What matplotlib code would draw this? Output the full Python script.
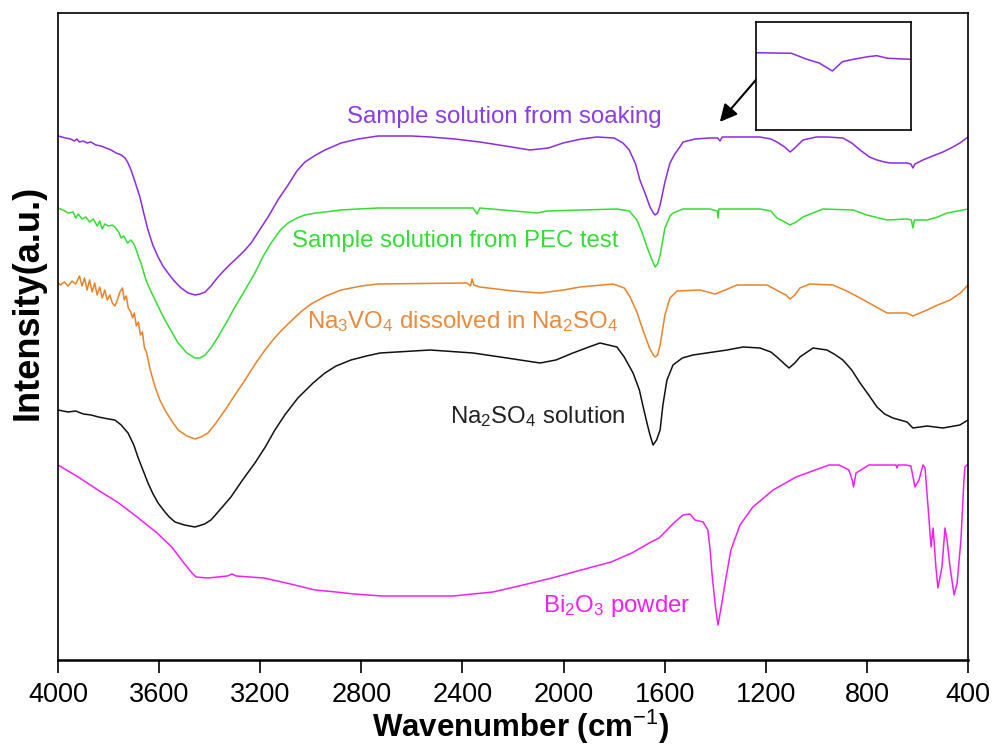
import numpy as np
import matplotlib
matplotlib.use("Agg")
import matplotlib.pyplot as plt

plt.rcParams['font.family'] = ['Liberation Sans', 'DejaVu Sans']
plt.rcParams['mathtext.fontset'] = 'custom'
plt.rcParams['mathtext.rm'] = 'Liberation Sans'
plt.rcParams['mathtext.it'] = 'Liberation Sans:italic'
plt.rcParams['mathtext.bf'] = 'Liberation Sans:bold'

# ---- FTIR spectra (wavenumber in cm^-1, intensity in a.u. with vertical offsets) ----
soak_wn = [4000, 3970, 3950, 3935, 3925, 3915, 3900, 3885, 3870, 3850, 3830, 3810, 3790,
           3770, 3750, 3735, 3725, 3711, 3695, 3676, 3660, 3644, 3625, 3604, 3585, 3565,
           3540, 3513, 3485, 3458, 3438, 3418, 3395, 3367, 3330, 3288, 3260, 3236, 3200,
           3169, 3130, 3090, 3055, 3023, 2980, 2944, 2880, 2813, 2734, 2600, 2528, 2430,
           2331, 2230, 2133, 2060, 2002, 1930, 1868, 1800, 1765, 1740, 1715, 1698, 1675,
           1658, 1645, 1638, 1628, 1618, 1599, 1579, 1560, 1540, 1527, 1480, 1421, 1390,
           1381, 1372, 1300, 1223, 1180, 1156, 1125, 1104, 1085, 1053, 1000, 958, 895, 860,
           827, 790, 760, 730, 709, 641, 626, 618, 610, 578, 540, 499, 460, 432, 400]
soak_int = [524, 522, 521, 519, 521, 518, 519, 517, 518, 515, 514, 512, 510,
            507, 505, 502, 498, 490, 478, 463, 446, 430, 415, 403, 394, 387,
            379, 372, 367, 365, 366, 368, 374, 383, 393, 403, 410, 417, 431,
            443, 460, 475, 489, 498, 505, 510, 517, 521, 524, 524, 523, 521,
            518, 514, 510, 512, 517, 521, 523, 522, 517, 510, 496, 480, 465,
            453, 447, 445, 447, 455, 478, 497, 506, 513, 518, 521, 522, 522,
            519, 523, 523, 523, 521, 518, 513, 508, 512, 520, 523, 523, 522, 517,
            510, 503, 500, 498, 497, 497, 496, 492, 496, 500, 504, 508, 513, 517, 523]

pec_wn = [4000, 3980, 3960, 3940, 3930, 3920, 3905, 3890, 3875, 3860, 3845, 3835, 3825,
          3815, 3800, 3785, 3775, 3760, 3750, 3740, 3725, 3712, 3700, 3690, 3680, 3672,
          3652, 3635, 3616, 3597, 3577, 3550, 3525, 3490, 3458, 3438, 3418, 3395, 3367,
          3335, 3300, 3260, 3221, 3190, 3157, 3120, 3090, 3055, 3023, 2980, 2944, 2880,
          2813, 2734, 2358, 2342, 2331, 2105, 2066, 1789, 1740, 1710, 1690, 1670, 1650,
          1638, 1628, 1618, 1599, 1579, 1567, 1527, 1421, 1392, 1389, 1385, 1223, 1180,
          1156, 1125, 1104, 1080, 1053, 974, 855, 800, 720, 641, 624, 618, 612, 562, 520,
          483, 440, 400]
pec_int = [452, 450, 447, 448, 442, 446, 441, 443, 438, 441, 434, 439, 431,
           436, 434, 435, 433, 428, 422, 424, 417, 420, 416, 410, 402, 397,
           380, 370, 360, 350, 340, 328, 317, 307, 302, 302, 305, 312, 323,
           337, 353, 370, 387, 403, 417, 430, 437, 442, 445, 447, 448, 450,
           451, 452, 452, 446, 452, 447, 449, 451, 449, 440, 428, 413, 400,
           393, 396, 405, 432, 444, 447, 451, 451, 449, 442, 451, 451, 449,
           442, 438, 435, 438, 443, 451, 450, 445, 440, 441, 440, 432, 440, 440, 443,
           447, 449, 451]

nvo_wn = [4000, 3990, 3975, 3960, 3945, 3930, 3915, 3905, 3895, 3885, 3875, 3865, 3855,
          3845, 3835, 3825, 3815, 3805, 3795, 3785, 3775, 3765, 3755, 3745, 3738, 3730,
          3722, 3712, 3705, 3698, 3690, 3682, 3674, 3666, 3658, 3650, 3635, 3616, 3597,
          3577, 3550, 3525, 3490, 3458, 3435, 3407, 3375, 3339, 3300, 3260, 3220, 3181,
          3150, 3122, 3090, 3040, 2999, 2940, 2880, 2800, 2734, 2382, 2368, 2362, 2355,
          2331, 2200, 2093, 2000, 1935, 1804, 1760, 1737, 1710, 1686, 1660, 1645, 1638,
          1628, 1618, 1599, 1579, 1551, 1460, 1401, 1360, 1314, 1195, 1144, 1120, 1104,
          1085, 1065, 1025, 934, 880, 827, 770, 720, 641, 618, 562, 520, 471, 430, 400]
nvo_int = [377, 375, 378, 374, 379, 376, 384, 374, 382, 370, 380, 368, 377,
           365, 373, 362, 370, 360, 365, 357, 354, 360, 368, 372, 360, 364,
           352, 348, 342, 347, 334, 338, 325, 328, 312, 308, 290, 273, 260,
           250, 239, 230, 224, 221, 223, 227, 237, 250, 265, 280, 296, 310,
           320, 328, 336, 348, 356, 364, 370, 374, 376, 377, 374, 381, 375,
           373, 369, 367, 370, 373, 376, 372, 363, 348, 330, 312, 305, 303,
           305, 315, 345, 362, 369, 370, 366, 370, 375, 375, 368, 365, 361,
           365, 372, 376, 375, 369, 362, 354, 347, 347, 344, 350, 355, 360, 367, 375]

nso_wn = [4000, 3960, 3930, 3900, 3869, 3840, 3800, 3775, 3750, 3723, 3700, 3684, 3664,
          3644, 3624, 3604, 3580, 3560, 3537, 3500, 3458, 3420, 3395, 3360, 3316, 3270,
          3221, 3180, 3142, 3100, 3051, 2991, 2944, 2900, 2841, 2780, 2726, 2528, 2358,
          2224, 2093, 2030, 1963, 1900, 1856, 1789, 1760, 1725, 1700, 1685, 1670, 1658,
          1646, 1632, 1618, 1607, 1591, 1567, 1530, 1488, 1353, 1290, 1223, 1180, 1156,
          1130, 1108, 1085, 1065, 1013, 958, 930, 895, 860, 827, 790, 760, 730, 697, 641,
          618, 562, 499, 432, 400]
nso_int = [250, 248, 249, 246, 245, 243, 241, 240, 235, 227, 215, 203, 190,
           177, 166, 157, 149, 143, 138, 135, 133, 136, 140, 150, 163, 180,
           197, 213, 230, 246, 262, 277, 287, 294, 300, 304, 307, 310, 307,
           302, 297, 300, 307, 313, 317, 313, 303, 287, 270, 253, 237, 225,
           215, 220, 230, 255, 280, 295, 302, 305, 310, 313, 312, 308, 303,
           297, 292, 297, 303, 312, 310, 306, 300, 290, 277, 264, 253, 246, 242, 238,
           232, 234, 232, 235, 240]

bio_wn = [4000, 3920, 3842, 3760, 3687, 3608, 3550, 3502, 3470, 3454, 3407, 3330, 3312,
          3295, 3185, 3080, 2983, 2900, 2829, 2718, 2437, 2279, 2160, 2046, 1930, 1812,
          1730, 1654, 1622, 1591, 1560, 1527, 1500, 1480, 1448, 1429, 1420, 1413, 1400,
          1389, 1375, 1361, 1338, 1302, 1251, 1171, 1080, 950, 910, 871, 858, 853, 848,
          843, 792, 685, 681, 677, 645, 626, 615, 610, 594, 578, 570, 558, 546, 538, 527,
          519, 503, 491, 483, 471, 455, 443, 428, 416, 412, 404]
bio_int = [195, 183, 170, 157, 143, 127, 113, 97, 87, 83, 82, 84, 86,
           84, 82, 76, 70, 68, 66, 64, 64, 68, 75, 82, 90, 98,
           107, 118, 122, 130, 138, 145, 146, 140, 138, 130,
           110, 87, 55, 35, 55, 77, 110, 135, 153, 170, 183, 195, 195, 190, 180, 173, 180,
           187, 195, 195, 192, 195, 195, 194, 180, 173, 180, 195, 192, 153, 113, 132, 93,
           72, 93, 132, 120, 93, 65, 77, 120, 180, 193, 195]

# magnified view of the soaking spectrum near 1380 cm^-1
inset_wn = [1450, 1418, 1404, 1393, 1381, 1372, 1362, 1349, 1341, 1331, 1310]
inset_int = [77.3, 76.7, 70.7, 67.0, 59.0, 68.3, 70.7, 73.3, 74.3, 71.7, 70.7]

series = [
    (soak_wn, soak_int, '#8A2BE2'),
    (pec_wn, pec_int, '#33DD33'),
    (nvo_wn, nvo_int, '#E8832A'),
    (nso_wn, nso_int, '#111111'),
    (bio_wn, bio_int, '#F020F0'),
]

xticks = [4000, 3600, 3200, 2800, 2400, 2000, 1600, 1200, 800, 400]

fig = plt.figure(figsize=(9.93, 7.44), dpi=100)
ax = fig.add_axes([58 / 993, 1 - 660 / 744, 910 / 993, 647 / 744])

for wn, val, col in series:
    ax.plot(wn, val, color=col, lw=1.1, solid_joinstyle='round')

ax.set_xlim(4000, 400)
ax.set_ylim(0, 647)
ax.set_xticks(xticks)
ax.set_xticklabels([str(t) for t in xticks])
ax.set_yticks([])
ax.tick_params(axis='x', direction='out', length=9, width=1.2, labelsize=19.5, pad=7)
for sp in ax.spines.values():
    sp.set_linewidth(1.2)
ax.spines['bottom'].set_linewidth(1.8)

ax.set_xlabel(r'Wavenumber (cm$^{-1}$)', fontsize=22.5, fontweight='bold')
ax.xaxis.label.set_va('baseline')
ax.xaxis.set_label_coords(0.508, -0.1185)
ax.set_ylabel('Intensity(a.u.)', fontsize=26, fontweight='bold')
ax.yaxis.label.set_va('center')
ax.yaxis.set_label_coords(-0.033, 0.553)

label_kw = dict(fontsize=17.3, ha='left', va='baseline')
ax.text(2857, 537, 'Sample solution from soaking', color='#8A3CE6', **label_kw)
ax.text(3074, 413, 'Sample solution from PEC test', color='#33DD33', **label_kw)
ax.text(3015, 332, r'Na$_3$VO$_4$ dissolved in Na$_2$SO$_4$', color='#EA8A3C', **label_kw)
ax.text(2449, 237, r'Na$_2$SO$_4$ solution', color='#222222', **label_kw)
ax.text(2081, 48, r'Bi$_2$O$_3$ powder', color='#F020F0', **label_kw)

ax.annotate('', xy=(1389, 536), xytext=(1219, 586),
            arrowprops=dict(arrowstyle='-|>', color='black', lw=1.5, mutation_scale=26))

ins = fig.add_axes([756 / 993, 1 - 130 / 744, 155 / 993, 108 / 744])
ins.plot(inset_wn, inset_int, color='#8A2BE2', lw=1.1)
ins.set_xlim(1450, 1310)
ins.set_ylim(0, 108)
ins.set_xticks([])
ins.set_yticks([])
for sp in ins.spines.values():
    sp.set_linewidth(1.2)

fig.savefig('out.png', dpi=100)
